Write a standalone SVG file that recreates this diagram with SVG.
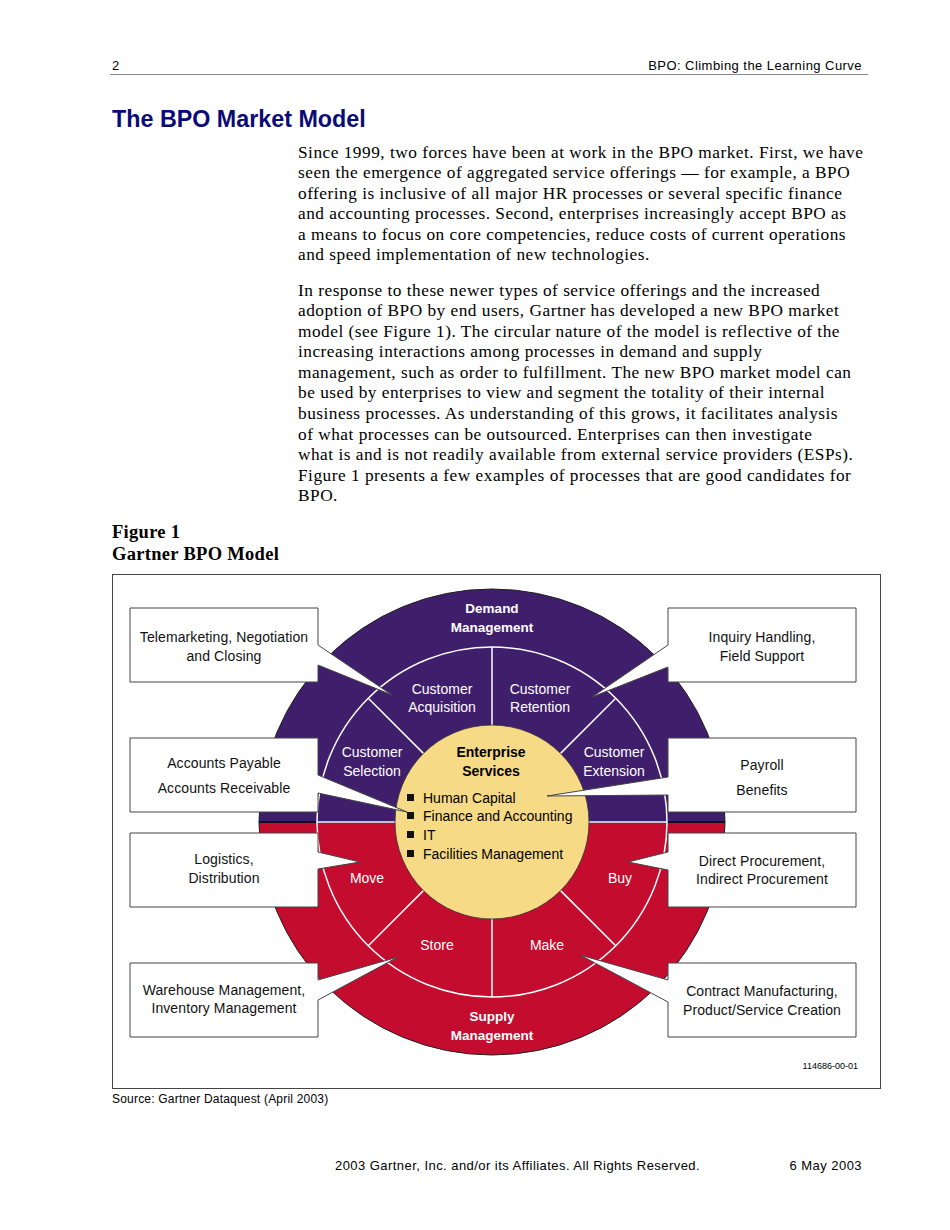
<svg xmlns="http://www.w3.org/2000/svg" width="950" height="1230" viewBox="0 0 950 1230">
<style>
.sans{font-family:"Liberation Sans",Arial,sans-serif}
.serif{font-family:"Liberation Serif","Times New Roman",serif}
.body{font-family:"Liberation Serif","Times New Roman",serif;font-size:17.3px;letter-spacing:0.5px;fill:#000}
.seg{font-family:"Liberation Sans",Arial,sans-serif;font-size:14px;fill:#fff;text-anchor:middle}
.segb{font-family:"Liberation Sans",Arial,sans-serif;font-size:13.5px;font-weight:bold;fill:#fff;text-anchor:middle}
.box{font-family:"Liberation Sans",Arial,sans-serif;font-size:14px;letter-spacing:0.1px;fill:#111;text-anchor:middle}
.call{fill:#fff;stroke:#444;stroke-width:1}
.ring{stroke:#fff;stroke-width:1.5;fill:none}
</style>
<rect width="950" height="1230" fill="#fff"/>
<g id="header">
<text x="112" y="70" class="sans" font-size="13">2</text>
<text x="862" y="70" class="sans" font-size="13" letter-spacing="0.45" text-anchor="end">BPO: Climbing the Learning Curve</text>
<line x1="110" y1="74.5" x2="868" y2="74.5" stroke="#888" stroke-width="1"/>
</g>
<text x="112" y="127" class="sans" font-size="23.3" font-weight="bold" fill="#0a0a78">The BPO Market Model</text>
<g id="bodytext">
<text class="body" x="298" y="158">Since 1999, two forces have been at work in the BPO market. First, we have</text>
<text class="body" x="298" y="178">seen the emergence of aggregated service offerings — for example, a BPO</text>
<text class="body" x="298" y="199">offering is inclusive of all major HR processes or several specific finance</text>
<text class="body" x="298" y="219">and accounting processes. Second, enterprises increasingly accept BPO as</text>
<text class="body" x="298" y="240">a means to focus on core competencies, reduce costs of current operations</text>
<text class="body" x="298" y="260">and speed implementation of new technologies.</text>
<text class="body" x="298" y="296">In response to these newer types of service offerings and the increased</text>
<text class="body" x="298" y="316">adoption of BPO by end users, Gartner has developed a new BPO market</text>
<text class="body" x="298" y="337">model (see Figure 1). The circular nature of the model is reflective of the</text>
<text class="body" x="298" y="357">increasing interactions among processes in demand and supply</text>
<text class="body" x="298" y="378">management, such as order to fulfillment. The new BPO market model can</text>
<text class="body" x="298" y="398">be used by enterprises to view and segment the totality of their internal</text>
<text class="body" x="298" y="419">business processes. As understanding of this grows, it facilitates analysis</text>
<text class="body" x="298" y="440">of what processes can be outsourced. Enterprises can then investigate</text>
<text class="body" x="298" y="460">what is and is not readily available from external service providers (ESPs).</text>
<text class="body" x="298" y="481">Figure 1 presents a few examples of processes that are good candidates for</text>
<text class="body" x="298" y="501">BPO.</text>
</g>
<text x="112" y="538" class="serif" font-size="18.5" font-weight="bold" letter-spacing="0.3">Figure 1</text>
<text x="112" y="560" class="serif" font-size="18.5" font-weight="bold" letter-spacing="0.3">Gartner BPO Model</text>
<rect id="frame" x="112.5" y="574.5" width="768" height="514" fill="none" stroke="#444" stroke-width="1"/>
<g id="disc">
<path d="M259,822 A233,233 0 0 1 725,822 Z" fill="#3f1e6c"/>
<path d="M259,822 A233,233 0 0 0 725,822 Z" fill="#c40c2e"/>
<circle cx="492" cy="822" r="233" fill="none" stroke="#222" stroke-width="1"/>
<line x1="259" y1="822" x2="725" y2="822" stroke="#1a0a1a" stroke-width="2"/>
<circle cx="492" cy="822" r="175" class="ring"/>
<line x1="317" y1="822" x2="397" y2="822" class="ring"/>
<line x1="587" y1="822" x2="667" y2="822" class="ring"/>
<line x1="492" y1="647" x2="492" y2="727" class="ring"/>
<line x1="492" y1="917" x2="492" y2="997" class="ring"/>
<line x1="368.3" y1="698.3" x2="423.4" y2="753.4" class="ring"/>
<line x1="615.7" y1="698.3" x2="560.6" y2="753.4" class="ring"/>
<line x1="368.3" y1="945.7" x2="423.4" y2="890.6" class="ring"/>
<line x1="615.7" y1="945.7" x2="560.6" y2="890.6" class="ring"/>
<text class="segb" x="492" y="613">Demand</text>
<text class="segb" x="492" y="632">Management</text>
<text class="seg" x="442" y="694">Customer</text>
<text class="seg" x="442" y="712">Acquisition</text>
<text class="seg" x="540" y="694">Customer</text>
<text class="seg" x="540" y="712">Retention</text>
<text class="seg" x="372" y="757">Customer</text>
<text class="seg" x="372" y="776">Selection</text>
<text class="seg" x="614" y="757">Customer</text>
<text class="seg" x="614" y="776">Extension</text>
<text class="seg" x="367" y="883">Move</text>
<text class="seg" x="620" y="883">Buy</text>
<text class="seg" x="437" y="950">Store</text>
<text class="seg" x="547" y="950">Make</text>
<text class="segb" x="492" y="1021">Supply</text>
<text class="segb" x="492" y="1040">Management</text>
</g>
<g id="enterprise">
<circle cx="492" cy="822" r="97" fill="#f7da86" stroke="#333" stroke-width="0.8"/>
<text class="sans" x="491" y="757" font-size="14" font-weight="bold" text-anchor="middle">Enterprise</text>
<text class="sans" x="491" y="776" font-size="14" font-weight="bold" text-anchor="middle">Services</text>
<rect x="407" y="794" width="7" height="7" fill="#111"/>
<rect x="407" y="812" width="7" height="7" fill="#111"/>
<rect x="407" y="831" width="7" height="7" fill="#111"/>
<rect x="407" y="850" width="7" height="7" fill="#111"/>
<text class="sans" x="423" y="803" font-size="14">Human Capital</text>
<text class="sans" x="423" y="821" font-size="14">Finance and Accounting</text>
<text class="sans" x="423" y="840" font-size="14">IT</text>
<text class="sans" x="423" y="859" font-size="14">Facilities Management</text>
</g>
<g id="callouts">
<g id="c-tele"><path class="call" d="M130,608 H318 V645 L392,695 L318,665 V682 H130 Z"/>
<text class="box" x="224" y="642">Telemarketing, Negotiation</text><text class="box" x="224" y="661">and Closing</text></g>
<g id="c-accounts"><path class="call" d="M130,738 H318 V775 L407,812 L318,793 V812 H130 Z"/>
<text class="box" x="224" y="768">Accounts Payable</text><text class="box" x="224" y="793">Accounts Receivable</text></g>
<g id="c-logistics"><path class="call" d="M130,833 H318 V852 L360,862 L318,869 V907 H130 Z"/>
<text class="box" x="224" y="864">Logistics,</text><text class="box" x="224" y="883">Distribution</text></g>
<g id="c-warehouse"><path class="call" d="M130,963 H318 V980 L398,957 L318,1000 V1037 H130 Z"/>
<text class="box" x="224" y="995">Warehouse Management,</text><text class="box" x="224" y="1013">Inventory Management</text></g>
<g id="c-inquiry"><path class="call" d="M856,608 H668 V645 L592,697 L668,667 V682 H856 Z"/>
<text class="box" x="762" y="642">Inquiry Handling,</text><text class="box" x="762" y="661">Field Support</text></g>
<g id="c-payroll"><path class="call" d="M856,738 H668 V777 L547,796 L668,795 V812 H856 Z"/>
<text class="box" x="762" y="770">Payroll</text><text class="box" x="762" y="795">Benefits</text></g>
<g id="c-procurement"><path class="call" d="M856,833 H668 V852 L628,862 L668,870 V907 H856 Z"/>
<text class="box" x="762" y="866">Direct Procurement,</text><text class="box" x="762" y="884">Indirect Procurement</text></g>
<g id="c-contract"><path class="call" d="M856,963 H668 V980 L580,955 L668,1002 V1037 H856 Z"/>
<text class="box" x="762" y="996">Contract Manufacturing,</text><text class="box" x="762" y="1015">Product/Service Creation</text></g>
</g>
<text class="sans" x="858" y="1069" font-size="9" text-anchor="end">114686-00-01</text>
<text class="sans" x="112" y="1103" font-size="12" letter-spacing="0.2">Source: Gartner Dataquest (April 2003)</text>
<g id="footer">
<text class="sans" x="335" y="1170" font-size="13" letter-spacing="0.45">2003 Gartner, Inc. and/or its Affiliates. All Rights Reserved.</text>
<text class="sans" x="862" y="1170" font-size="13" letter-spacing="0.45" text-anchor="end">6 May 2003</text>
</g>
</svg>
